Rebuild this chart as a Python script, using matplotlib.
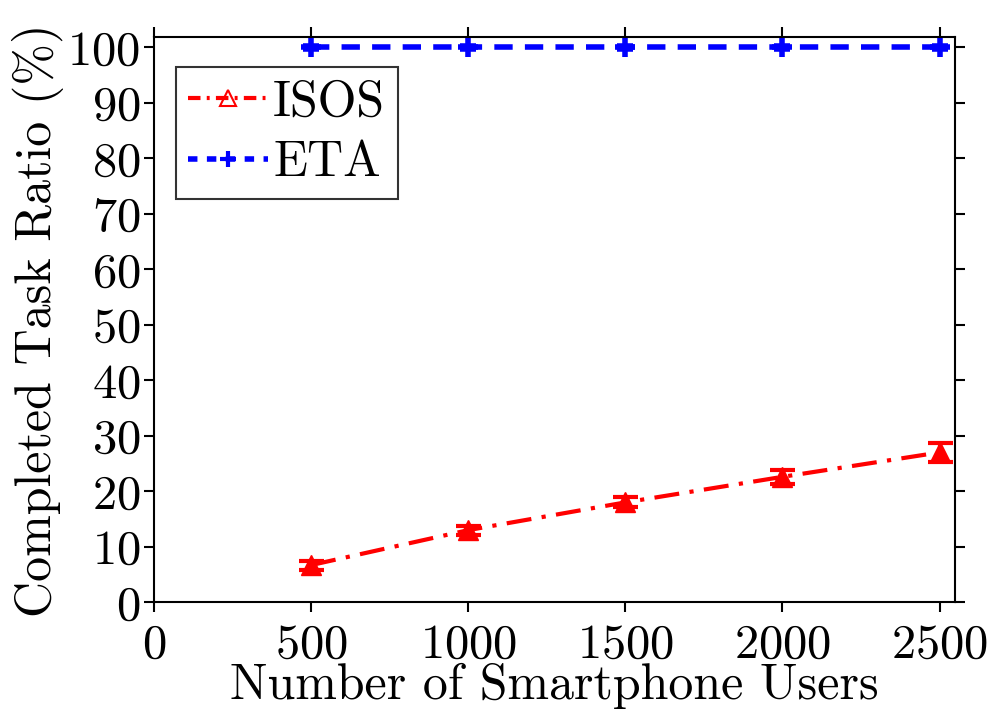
import numpy as np
import matplotlib.pyplot as plt
from matplotlib.lines import Line2D

plt.rcParams['font.family'] = 'serif'
plt.rcParams['font.serif'] = ['cmr10']
plt.rcParams['mathtext.fontset'] = 'cm'
plt.rcParams['axes.formatter.use_mathtext'] = True

# 数据
users = [500, 1000, 1500, 2000, 2500]
isos = [6.7, 13.0, 18.0, 22.6, 27.0]
isos_err = [0.8, 0.8, 0.9, 1.3, 1.7]
eta = [100, 100, 100, 100, 100]
eta_err = [0.3, 0.3, 0.3, 0.3, 0.3]

xticks = [0, 500, 1000, 1500, 2000, 2500]
yticks = np.arange(0, 101, 10)

fig = plt.figure(figsize=(9.94, 7.17), dpi=100)
ax = fig.add_axes([0.155, 0.160, 0.806, 0.788])

ax.errorbar(users, isos, yerr=isos_err, color='red', linestyle='-', linewidth=3,
            dashes=(6, 2.5, 1, 2.5), marker='^', markersize=15, capsize=9,
            capthick=3, elinewidth=3)
ax.errorbar(users, eta, yerr=eta_err, color='blue', linestyle='--', linewidth=4,
            dashes=(3.3, 2.2), marker='+', markersize=15, markeredgewidth=4,
            capsize=6, capthick=3, elinewidth=3)

ax.set_xlim(0, 2550)
ax.set_ylim(0, 101.8)
ax.set_xticks(xticks)
ax.set_yticks(yticks)
ax.tick_params(axis='both', which='both', direction='out', top=True, right=True,
               length=7, width=1.5, labelsize=35, pad=3)
ax.tick_params(axis='x', pad=8)
for s in ax.spines.values():
    s.set_linewidth(1.5)

ax.set_xlabel('Number of Smartphone Users', fontsize=36, labelpad=-3)
ax.set_ylabel('Completed Task Ratio (%)', fontsize=36, labelpad=2)

handles = [
    Line2D([], [], color='red', linestyle='-', linewidth=3, dashes=(3, 1.5, 0.7, 1.5),
           marker='^', markersize=11, markerfacecolor='none', markeredgewidth=1.5),
    Line2D([], [], color='blue', linestyle='--', linewidth=4, dashes=(1.7, 1.7),
           marker='+', markersize=12, markeredgewidth=3),
]
leg = ax.legend(handles, ['ISOS', 'ETA'], loc='upper left', fontsize=36,
                frameon=True, fancybox=False, edgecolor='black',
                handlelength=1.6, handletextpad=0.1, borderpad=0.25,
                labelspacing=0.3, borderaxespad=0, bbox_to_anchor=(0.027, 0.947))
leg.get_frame().set_linewidth(1.5)

plt.savefig('out.png', dpi=100)
